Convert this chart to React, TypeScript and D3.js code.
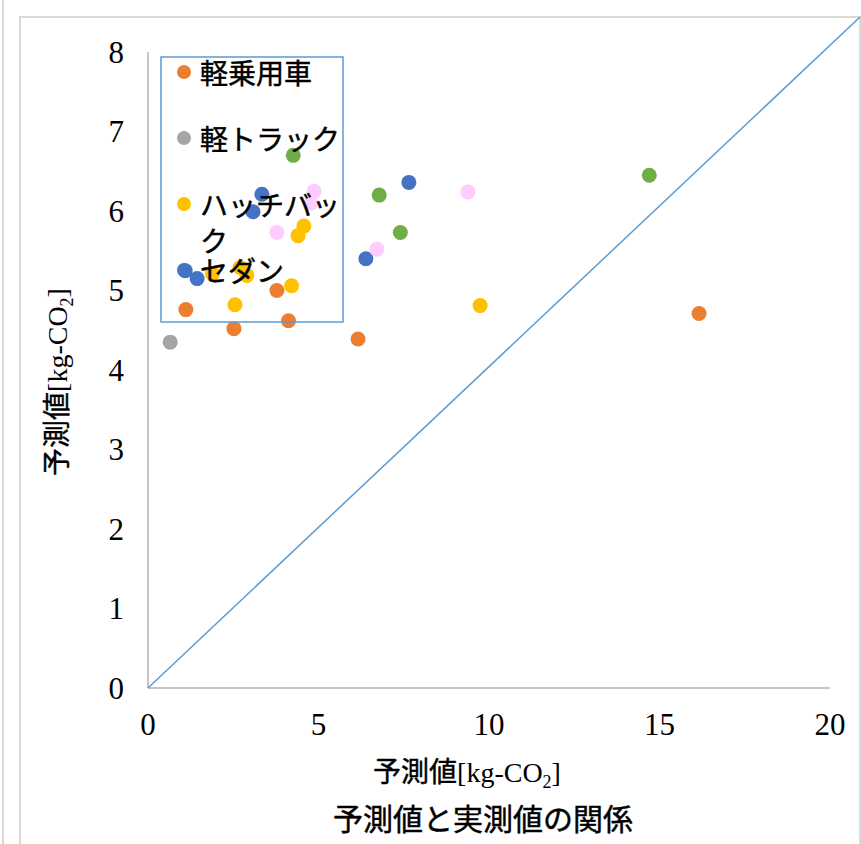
import React from "react";
import * as d3 from "d3";

const xTicks = [0, 5, 10, 15, 20];
const yTicks = [0, 1, 2, 3, 4, 5, 6, 7, 8];

const legendNames = ["軽乗用車", "軽トラック", "ハッチバック", "セダン"];
const seriesColors = ["#ED7D31", "#A5A5A5", "#FFC000", "#4472C4", "#70AD47", "#FFCCFF"];

const keiX = [1.11, 2.52, 3.78, 4.12, 6.16, 16.16];
const keiY = [4.76, 4.52, 5.0, 4.62, 4.39, 4.71];
const truckX = [0.65];
const truckY = [4.35];
const hatchX = [1.89, 2.7, 2.9, 2.55, 4.21, 4.4, 4.57, 9.74];
const hatchY = [5.21, 5.29, 5.19, 4.82, 5.06, 5.69, 5.81, 4.81];
const sedanX = [1.09, 1.44, 3.08, 3.34, 6.39, 7.65];
const sedanY = [5.25, 5.15, 5.99, 6.21, 5.4, 6.36];
const greenX = [4.26, 6.78, 7.4, 14.7];
const greenY = [6.7, 6.2, 5.73, 6.45];
const pinkX = [4.87, 4.79, 3.78, 6.71, 9.38];
const pinkY = [6.25, 6.1, 5.73, 5.52, 6.24];

const diagX = [0, 20.88];
const diagY = [0, 8.44];

const seriesX = [keiX, truckX, hatchX, sedanX, greenX, pinkX];
const seriesY = [keiY, truckY, hatchY, sedanY, greenY, pinkY];

const JP = "'Noto Sans CJK JP', 'Noto Sans', sans-serif";
const SERIF = "'Liberation Serif', 'Times New Roman', serif";

function wrap(s: string, n: number): string[] {
  const out: string[] = [];
  for (let i = 0; i < s.length; i += n) out.push(s.slice(i, i + n));
  return out;
}

export default function App() {
  const x = d3.scaleLinear().domain([0, 20]).range([148, 830]);
  const y = d3.scaleLinear().domain([0, 8]).range([688, 52]);
  const line = d3
    .line<number>()
    .x((i) => x(diagX[i]))
    .y((i) => y(diagY[i]));

  const legendRows = legendNames.map((n, i) => ({
    name: n,
    lines: wrap(n, 5),
    y: 74 + i * 66,
    color: seriesColors[i],
  }));

  return (
    <svg
      width={861}
      height={844}
      style={{ position: "absolute", left: 0, top: 0, background: "#fff" }}
    >
      <rect x={0} y={0} width={861} height={844} fill="#fff" />
      <line x1={3} y1={0} x2={3} y2={844} stroke="#d9d9d9" strokeWidth={2} />
      <rect x={20} y={17} width={840} height={900} fill="none" stroke="#d9d9d9" strokeWidth={2} />

      {/* axes */}
      <line x1={x(0)} y1={y(0)} x2={x(0)} y2={y(8)} stroke="#c6c6c6" strokeWidth={2} />
      <line x1={x(0)} y1={y(0)} x2={x(20)} y2={y(0)} stroke="#c6c6c6" strokeWidth={2} />

      {yTicks.map((t) => (
        <text
          key={"y" + t}
          x={124}
          y={y(t) + 10.5}
          textAnchor="end"
          fontFamily={SERIF}
          fontSize={31}
          fill="#000"
        >
          {t}
        </text>
      ))}
      {xTicks.map((t) => (
        <text
          key={"x" + t}
          x={x(t)}
          y={735}
          textAnchor="middle"
          fontFamily={SERIF}
          fontSize={31}
          fill="#000"
        >
          {t}
        </text>
      ))}

      {/* diagonal */}
      <path d={line([0, 1]) || ""} fill="none" stroke="#5B9BD5" strokeWidth={1.5} />

      {/* points */}
      {seriesX.map((xs, si) =>
        xs.map((v, i) => (
          <circle
            key={si + "-" + i}
            cx={x(v)}
            cy={y(seriesY[si][i])}
            r={7.5}
            fill={seriesColors[si]}
          />
        ))
      )}

      {/* legend */}
      <rect x={161} y={57} width={182} height={265} fill="none" stroke="#5B9BD5" strokeWidth={1.5} />
      {legendRows.map((r) => (
        <g key={r.name}>
          <circle cx={184} cy={r.y - 2} r={7} fill={r.color} />
          {r.lines.map((ln, li) => (
            <text
              key={li}
              x={200}
              y={r.y + 10 + li * 36}
              fontFamily={JP}
              fontSize={28}
              stroke="#000"
              strokeWidth={0.45}
              fill="#000"
            >
              {ln}
            </text>
          ))}
        </g>
      ))}

      {/* y axis title */}
      <text
        transform={`translate(67,382) rotate(-90)`}
        textAnchor="middle"
        fill="#000"
        fontSize={28}
      >
        <tspan fontFamily={JP} stroke="#000" strokeWidth={0.4}>予測値</tspan>
        <tspan fontFamily={SERIF}>[kg-CO</tspan>
        <tspan fontFamily={SERIF} fontSize={18} dy={6}>2</tspan>
        <tspan fontFamily={SERIF} dy={-6}>]</tspan>
      </text>

      {/* x axis title */}
      <text x={467} y={782} textAnchor="middle" fill="#000" fontSize={28}>
        <tspan fontFamily={JP} stroke="#000" strokeWidth={0.4}>予測値</tspan>
        <tspan fontFamily={SERIF}>[kg-CO</tspan>
        <tspan fontFamily={SERIF} fontSize={18} dy={6}>2</tspan>
        <tspan fontFamily={SERIF} dy={-6}>]</tspan>
      </text>

      {/* chart title */}
      <text
        x={483}
        y={830}
        textAnchor="middle"
        fontFamily={JP}
        fontSize={30}
        stroke="#000"
        strokeWidth={0.45}
        fill="#000"
      >
        予測値と実測値の関係
      </text>
    </svg>
  );
}
